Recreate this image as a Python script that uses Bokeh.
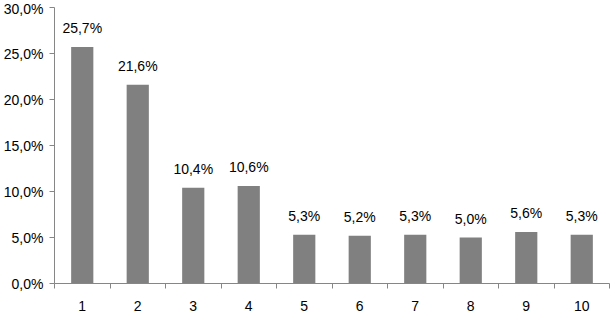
from bokeh.plotting import figure
from bokeh.models import ColumnDataSource, FixedTicker, Range1d
from bokeh.core.properties import value
from bokeh.embed import file_html
from bokeh.resources import INLINE

categories = [1, 2, 3, 4, 5, 6, 7, 8, 9, 10]
values = [25.7, 21.6, 10.4, 10.6, 5.3, 5.2, 5.3, 5.0, 5.6, 5.3]
value_labels = ["25,7%", "21,6%", "10,4%", "10,6%", "5,3%", "5,2%", "5,3%", "5,0%", "5,6%", "5,3%"]
y_ticks = [0, 5, 10, 15, 20, 25, 30]
y_tick_labels = ["0,0%", "5,0%", "10,0%", "15,0%", "20,0%", "25,0%", "30,0%"]

FONT = "Liberation Sans"
AXIS_COLOR = "#868686"
BAR_COLOR = "#808080"

src = ColumnDataSource(dict(x=categories, top=values, label=value_labels))

p = figure(width=610, height=316, output_backend="svg", toolbar_location=None,
           x_range=Range1d(0.5, 10.5), y_range=Range1d(0, 30),
           min_border_left=51, min_border_right=1, min_border_top=7, min_border_bottom=33)
p.outline_line_color = None
p.grid.visible = False
p.background_fill_color = "white"
p.border_fill_color = "white"

p.vbar(x="x", top="top", width=0.4, bottom=0, source=src, fill_color=BAR_COLOR, line_color=None)
p.text(x="x", y="top", text="label", source=src, text_align="center", text_baseline="alphabetic",
       y_offset=-19, text_font=value(FONT), text_font_size="14px", text_color="#000000")

# x axis: labels at categories, ticks between categories
xa = p.xaxis[0]
xa.ticker = FixedTicker(ticks=categories, minor_ticks=[c - 0.5 for c in categories] + [categories[-1] + 0.5])
xa.major_tick_line_color = None
xa.major_tick_out = 5
xa.major_tick_in = 0
xa.minor_tick_line_color = AXIS_COLOR
xa.minor_tick_out = 5
xa.minor_tick_in = 0
xa.major_label_standoff = 12
xa.axis_line_color = AXIS_COLOR
xa.major_label_text_font = FONT
xa.major_label_text_font_size = "14px"
xa.major_label_text_color = "#000000"

ya = p.yaxis[0]
ya.ticker = FixedTicker(ticks=y_ticks)
ya.major_label_overrides = {t: l for t, l in zip(y_ticks, y_tick_labels)}
ya.major_tick_line_color = AXIS_COLOR
ya.major_tick_out = 5
ya.major_tick_in = 0
ya.minor_tick_line_color = None
ya.major_label_standoff = 6
ya.axis_line_color = AXIS_COLOR
ya.major_label_text_font = FONT
ya.major_label_text_font_size = "14px"
ya.major_label_text_color = "#000000"

open("out.html", "w").write(file_html(p, INLINE))
